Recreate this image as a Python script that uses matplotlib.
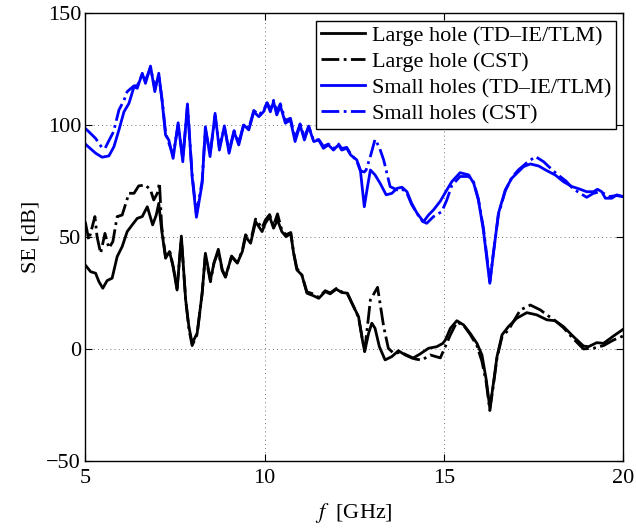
import numpy as np
import matplotlib
matplotlib.use("Agg")
import matplotlib.pyplot as plt

plt.rcParams["font.family"] = ["Liberation Serif", "DejaVu Serif"]
plt.rcParams["mathtext.fontset"] = "stix"

# Small holes, TD-IE/TLM (blue solid)
f_small = [5.0, 5.29, 5.47, 5.66, 5.80, 5.94, 6.08, 6.22, 6.36, 6.45, 6.59, 6.68, 6.82, 6.94,
           7.05, 7.15, 7.24, 7.33, 7.45, 7.59, 7.72, 7.85, 7.98, 8.10, 8.26, 8.35, 8.48, 8.62,
           8.74, 8.88, 9.01, 9.15, 9.28, 9.42, 9.56, 9.70, 9.84, 9.97, 10.07, 10.16, 10.25,
           10.34, 10.44, 10.58, 10.72, 10.85, 10.99, 11.11, 11.23, 11.37, 11.51, 11.64, 11.78,
           11.92, 12.06, 12.15, 12.29, 12.40, 12.57, 12.67, 12.78, 12.87, 12.95, 13.08, 13.22,
           13.39, 13.55, 13.69, 13.83, 13.97, 14.10, 14.25, 14.43, 14.57, 14.71, 14.90, 15.08,
           15.22, 15.45, 15.69, 15.83, 15.96, 16.10, 16.20, 16.28, 16.38, 16.52, 16.71, 16.89,
           17.08, 17.22, 17.41, 17.64, 17.87, 18.10, 18.33, 18.57, 18.80, 18.98, 19.17, 19.28,
           19.40, 19.50, 19.68, 19.82, 20.0]
se_small = [91.5, 87.4, 85.6, 86.2, 90.3, 97.8, 105.9, 109.7, 117.1, 116.4, 123.1, 118.6, 126.3,
            114.9, 123.1, 109.7, 95.5, 93.3, 85.1, 101.0, 83.6, 109.4, 76.9, 58.8, 74.0, 99.2,
            85.9, 105.2, 88.8, 99.6, 87.4, 97.0, 91.1, 100.0, 97.8, 105.9, 103.7, 105.9, 109.7,
            105.9, 110.4, 104.5, 108.5, 100.8, 102.2, 92.6, 100.0, 93.3, 99.2, 92.6, 93.3, 89.6,
            91.1, 88.8, 91.1, 88.8, 89.6, 86.6, 84.4, 79.9, 63.5, 72.5, 79.9, 77.7, 74.0, 68.8,
            69.5, 71.7, 72.2, 70.2, 65.0, 60.6, 56.8, 59.8, 62.1, 66.0, 71.0, 74.7, 78.7, 77.7,
            74.0, 66.5, 53.1, 39.7, 29.3, 42.7, 60.6, 71.0, 76.2, 79.2, 81.4, 82.6, 81.7, 79.6,
            77.7, 74.7, 72.5, 71.3, 70.2, 70.2, 71.3, 70.2, 67.3, 67.3, 68.8, 68.0]

# Small holes, CST (blue dash-dot)
f_small_cst = [5.0, 5.1, 5.29, 5.46, 5.55, 5.66, 5.79, 5.94, 6.08, 6.17, 6.36, 6.45, 6.59, 6.68,
               6.82, 6.94, 7.05, 7.15, 7.24, 7.33, 7.45, 7.59, 7.72, 7.85, 7.98, 8.10, 8.26,
               8.35, 8.48, 8.62, 8.74, 8.88, 9.01, 9.15, 9.28, 9.42, 9.56, 9.70, 9.84, 9.97,
               10.07, 10.16, 10.25, 10.34, 10.44, 10.58, 10.72, 10.85, 10.99, 11.11, 11.23,
               11.37, 11.51, 11.64, 11.78, 11.92, 12.06, 12.15, 12.29, 12.40, 12.57, 12.67,
               12.78, 12.83, 12.95, 13.08, 13.20, 13.32, 13.50, 13.69, 13.83, 13.97, 14.10,
               14.25, 14.40, 14.52, 14.71, 14.94, 15.08, 15.22, 15.45, 15.69, 15.83, 15.96,
               16.10, 16.20, 16.28, 16.38, 16.52, 16.71, 16.89, 17.08, 17.30, 17.55, 17.78,
               17.95, 18.15, 18.40, 18.60, 18.80, 18.98, 19.17, 19.30, 19.45, 19.60, 19.80, 20.0]
se_small_cst = [98.5, 97.0, 94.0, 90.0, 89.5, 93.0, 97.0, 106.7, 111.0, 114.9, 117.5, 117.5,
                122.5, 120.0, 125.5, 116.5, 122.0, 110.5, 96.5, 92.0, 86.5, 100.0, 85.0, 108.5,
                78.0, 60.0, 75.0, 98.0, 87.0, 104.0, 90.0, 99.0, 88.5, 97.5, 92.0, 100.5, 98.5,
                106.5, 104.5, 106.5, 110.0, 107.0, 111.0, 106.0, 109.5, 102.0, 103.0, 94.0, 100.5,
                94.5, 99.5, 93.0, 93.5, 90.5, 91.5, 89.5, 91.5, 89.5, 90.0, 87.0, 84.0, 79.5,
                79.0, 79.9, 86.0, 93.6, 90.0, 84.4, 72.5, 71.0, 71.5, 69.5, 64.5, 60.5, 57.0,
                56.1, 59.1, 61.3, 66.5, 73.0, 77.0, 77.0, 74.5, 67.0, 54.0, 41.0, 30.0, 43.0,
                60.0, 70.5, 76.5, 80.0, 83.0, 85.9, 83.6, 81.0, 78.1, 75.0, 71.5, 69.5, 67.7,
                69.5, 70.0, 69.5, 68.0, 68.5, 68.0]

# Large hole, TD-IE/TLM (black solid)
f_large = [5.0, 5.15, 5.29, 5.38, 5.49, 5.61, 5.75, 5.89, 6.03, 6.17, 6.31, 6.45, 6.59, 6.73,
           6.88, 6.98, 7.05, 7.13, 7.24, 7.35, 7.45, 7.56, 7.68, 7.80, 7.89, 7.98, 8.12, 8.26,
           8.35, 8.49, 8.59, 8.71, 8.82, 8.91, 9.08, 9.24, 9.38, 9.47, 9.61, 9.75, 9.93, 10.02,
           10.14, 10.25, 10.36, 10.48, 10.60, 10.73, 10.81, 10.90, 11.04, 11.18, 11.37, 11.51,
           11.69, 11.83, 12.00, 12.15, 12.31, 12.48, 12.62, 12.71, 12.79, 12.90, 12.99, 13.08,
           13.20, 13.36, 13.55, 13.73, 13.92, 14.13, 14.34, 14.57, 14.80, 14.97, 15.04, 15.18,
           15.36, 15.55, 15.73, 15.92, 16.06, 16.18, 16.28, 16.38, 16.48, 16.62, 16.80, 17.03,
           17.31, 17.59, 17.87, 18.10, 18.33, 18.61, 18.89, 19.03, 19.26, 19.45, 19.73, 20.0]
se_large = [37.5, 34.5, 33.8, 30.1, 27.1, 30.5, 31.6, 41.2, 45.7, 52.4, 55.4, 58.3, 59.1, 63.5,
            55.4, 59.8, 65.0, 53.1, 40.5, 43.5, 36.7, 26.3, 50.4, 21.9, 10.0, 2.5, 7.0, 24.9,
            42.7, 30.8, 38.3, 44.5, 35.3, 32.3, 41.2, 38.3, 43.5, 50.1, 47.2, 56.8, 52.4, 56.1,
            59.1, 53.9, 57.6, 52.4, 50.1, 51.6, 42.7, 35.3, 33.0, 24.9, 23.7, 22.6, 25.6, 24.6,
            26.7, 25.2, 24.9, 18.9, 14.4, 5.5, -1.2, 7.0, 11.5, 9.2, 1.0, -4.9, -3.4, -0.8, -2.7,
            -4.2, -2.2, 0.3, 1.0, 2.5, 4.0, 9.2, 12.6, 10.7, 7.0, 2.5, -2.7, -13.8, -26.5,
            -15.3, -3.4, 6.3, 10.0, 13.7, 16.2, 15.2, 13.0, 12.6, 10.0, 5.5, 1.3, 1.0, 2.8, 2.5,
            5.8, 8.8]

# Large hole, CST (black dash-dot)
f_large_cst = [5.0, 5.1, 5.27, 5.33, 5.43, 5.55, 5.66, 5.77, 5.89, 6.03, 6.22, 6.36, 6.49, 6.68,
               6.82, 6.91, 7.01, 7.07, 7.13, 7.24, 7.35, 7.45, 7.56, 7.68, 7.80, 7.89, 7.98,
               8.12, 8.26, 8.35, 8.49, 8.59, 8.71, 8.82, 8.91, 9.08, 9.24, 9.38, 9.47, 9.61,
               9.75, 9.93, 10.02, 10.14, 10.25, 10.36, 10.48, 10.60, 10.73, 10.81, 10.90, 11.04,
               11.18, 11.37, 11.51, 11.69, 11.83, 12.00, 12.15, 12.31, 12.48, 12.62, 12.71,
               12.79, 12.95, 13.15, 13.32, 13.45, 13.60, 13.80, 14.00, 14.20, 14.38, 14.62,
               14.90, 15.18, 15.36, 15.55, 15.73, 15.92, 16.06, 16.18, 16.28, 16.38, 16.48,
               16.62, 16.80, 17.13, 17.41, 17.69, 17.87, 18.10, 18.33, 18.61, 18.89, 19.17,
               19.45, 19.73, 20.0]
se_large_cst = [56.8, 48.7, 59.1, 50.1, 42.7, 51.6, 45.0, 47.9, 59.1, 59.8, 69.5, 69.5, 72.8,
                73.2, 71.0, 66.5, 69.5, 74.2, 55.0, 41.0, 44.0, 37.0, 27.0, 49.5, 22.0, 9.0,
                1.5, 6.5, 25.0, 42.0, 30.0, 38.5, 43.5, 35.0, 32.0, 41.5, 38.5, 44.0, 51.0,
                48.0, 58.0, 54.0, 57.5, 60.0, 55.0, 60.3, 53.0, 51.0, 52.0, 43.0, 36.0, 33.0,
                25.5, 24.5, 23.0, 26.0, 25.0, 27.0, 25.5, 24.5, 19.0, 14.0, 6.0, -1.0, 21.9,
                27.5, 10.0, 0.3, -2.0, -1.5, -3.0, -4.5, -5.0, -2.7, -4.0, 6.3, 12.0, 10.5,
                6.5, 1.5, -5.6, -15.0, -27.5, -16.0, -4.0, 5.5, 8.5, 17.4, 19.6, 17.4, 15.2,
                12.6, 9.5, 4.5, 0.0, 0.3, 1.5, 4.0, 5.8]

fig = plt.figure(figsize=(6.36, 5.31), dpi=100)
ax = fig.add_axes([0.134, 0.132, 0.846, 0.8435])

ax.plot(f_large, se_large, color="black", lw=2.0, ls="-", label="Large hole (TD\u2013IE/TLM)")
ax.plot(f_large_cst, se_large_cst, color="black", lw=2.0, ls="-.", label="Large hole (CST)")
ax.plot(f_small, se_small, color="blue", lw=2.0, ls="-", label="Small holes (TD\u2013IE/TLM)")
ax.plot(f_small_cst, se_small_cst, color="blue", lw=2.0, ls="-.", label="Small holes (CST)")

ax.set_xlim(5, 20)
ax.set_ylim(-50, 150)
ax.set_xticks([5, 10, 15, 20])
ax.set_yticks([-50, 0, 50, 100, 150])
ax.tick_params(direction="in", top=True, right=True, labelsize=16, length=5, width=0.8)
ax.tick_params(axis="x", pad=6)
ax.tick_params(axis="y", pad=3)
ax.grid(True, ls=(0, (1, 4)), color="0.3", lw=0.6)
for s in ax.spines.values():
    s.set_linewidth(1.0)

ax.set_xlabel("$f$  [GHz]", fontsize=16, labelpad=9)
ax.set_ylabel("SE [dB]", fontsize=16, labelpad=4)

leg = ax.legend(loc="upper right", fontsize=16, fancybox=False, framealpha=1,
                edgecolor="black", handlelength=2.0, borderpad=0.2, labelspacing=0.25,
                handletextpad=0.3, borderaxespad=0.35)
leg.get_frame().set_linewidth(1.0)

fig.savefig("out.png", dpi=100)
